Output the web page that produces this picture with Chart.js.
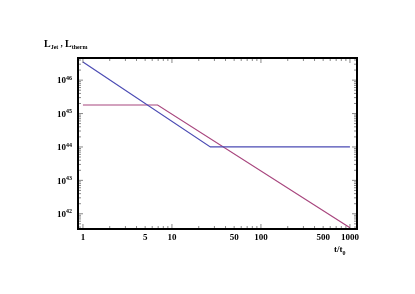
<!DOCTYPE html>
<html>
<head>
<meta charset="utf-8">
<script src="https://cdn.jsdelivr.net/npm/chart.js@4"></script>
<style>
  html, body { margin: 0; padding: 0; background: #fff; }
  #wrap { width: 415px; height: 294px; }
</style>
</head>
<body>
<div id="wrap"><canvas id="lumChart"></canvas></div>
<script>
// Datos (escala log-log)
const jetT = [1, 27, 1000];
const jetL = [3.5e46, 1e44, 1e44];
const thermT = [1, 6.9, 1000];
const thermL = [1.8e45, 1.8e45, 3.8e41];

const xLabels = [1, 5, 10, 50, 100, 500, 1000];
const yExponents = [42, 43, 44, 45, 46];

const serif = '"Liberation Serif", "DejaVu Serif", serif';

// Ticks, etiquetas y marco dibujados a partir de las escalas
const framePlugin = {
  id: 'frame',
  afterDraw(chart) {
    const { ctx, chartArea: a, scales: { x, y } } = chart;
    ctx.save();

    // marcas menores y mayores hacia dentro
    ctx.strokeStyle = '#555';
    ctx.lineWidth = 0.7;
    for (let d = 1; d <= 1000; d *= 10) {
      for (let m = 1; m <= 9; m++) {
        const v = d * m;
        if (v < x.min || v > x.max) continue;
        const px = x.getPixelForValue(v);
        const len = m === 1 ? 5 : 3;
        ctx.beginPath();
        ctx.moveTo(px, a.bottom); ctx.lineTo(px, a.bottom - len);
        ctx.moveTo(px, a.top); ctx.lineTo(px, a.top + len);
        ctx.stroke();
      }
    }
    for (let e = 41; e <= 46; e++) {
      for (let m = 1; m <= 9; m++) {
        const v = m * Math.pow(10, e);
        if (v < y.min || v > y.max) continue;
        const py = y.getPixelForValue(v);
        const len = m === 1 ? 5 : 3;
        ctx.beginPath();
        ctx.moveTo(a.left, py); ctx.lineTo(a.left + len, py);
        ctx.moveTo(a.right, py); ctx.lineTo(a.right - len, py);
        ctx.stroke();
      }
    }

    // marco
    ctx.strokeStyle = '#000';
    ctx.lineWidth = 2;
    ctx.strokeRect(a.left, a.top, a.right - a.left, a.bottom - a.top);

    ctx.fillStyle = '#000';
    // etiquetas eje x
    ctx.font = 'bold 9px ' + serif;
    ctx.textAlign = 'center';
    ctx.textBaseline = 'middle';
    xLabels.forEach(v => {
      ctx.fillText(String(v), x.getPixelForValue(v), a.bottom + 9);
    });

    // etiquetas eje y (10 con exponente)
    yExponents.forEach(e => {
      const py = y.getPixelForValue(Math.pow(10, e));
      ctx.font = 'bold 9px ' + serif;
      ctx.textAlign = 'right';
      ctx.fillText('10', a.left - 12, py + 1);
      ctx.font = 'bold 6px ' + serif;
      ctx.textAlign = 'left';
      ctx.fillText(String(e), a.left - 12, py - 2);
    });

    // titulo eje y
    ctx.textAlign = 'left';
    let cx = 44;
    const ty = 44;
    const piece = (txt, size, dy) => {
      ctx.font = 'bold ' + size + 'px ' + serif;
      ctx.fillText(txt, cx, ty + dy);
      cx += ctx.measureText(txt).width;
    };
    piece('L', 10, 0);
    piece('Jet', 6, 3);
    piece(' , ', 9, 0);
    piece('L', 10, 0);
    piece('therm', 6, 3);

    // titulo eje x
    cx = 334;
    const bx = 250;
    ctx.font = 'bold 9px ' + serif;
    ctx.fillText('t/t', cx, bx);
    cx += ctx.measureText('t/t').width;
    ctx.font = 'bold 6px ' + serif;
    ctx.fillText('0', cx, bx + 3);

    ctx.restore();
  }
};

window.addEventListener('load', () => {
  const ctx = document.getElementById('lumChart').getContext('2d');
  new Chart(ctx, {
    type: 'scatter',
    data: {
      datasets: [
        {
          label: 'L_Jet',
          data: jetT.map((t, i) => ({ x: t, y: jetL[i] })),
          showLine: true,
          borderColor: '#4b4bb4',
          borderWidth: 1.2,
          pointRadius: 0,
          tension: 0
        },
        {
          label: 'L_therm',
          data: thermT.map((t, i) => ({ x: t, y: thermL[i] })),
          showLine: true,
          borderColor: '#a8467e',
          borderWidth: 1.2,
          pointRadius: 0,
          tension: 0
        }
      ]
    },
    options: {
      responsive: true,
      maintainAspectRatio: false,
      animation: false,
      layout: { padding: { left: 78, right: 58, top: 58, bottom: 65 } },
      plugins: {
        legend: { display: false },
        tooltip: { enabled: false }
      },
      scales: {
        x: {
          type: 'logarithmic',
          min: 0.88,
          max: 1200,
          grid: { display: false, drawTicks: false },
          border: { display: false },
          ticks: { display: false }
        },
        y: {
          type: 'logarithmic',
          min: 3.5e41,
          max: 4.6e46,
          grid: { display: false, drawTicks: false },
          border: { display: false },
          ticks: { display: false }
        }
      }
    },
    plugins: [framePlugin]
  });
});
</script>
</body>
</html>
